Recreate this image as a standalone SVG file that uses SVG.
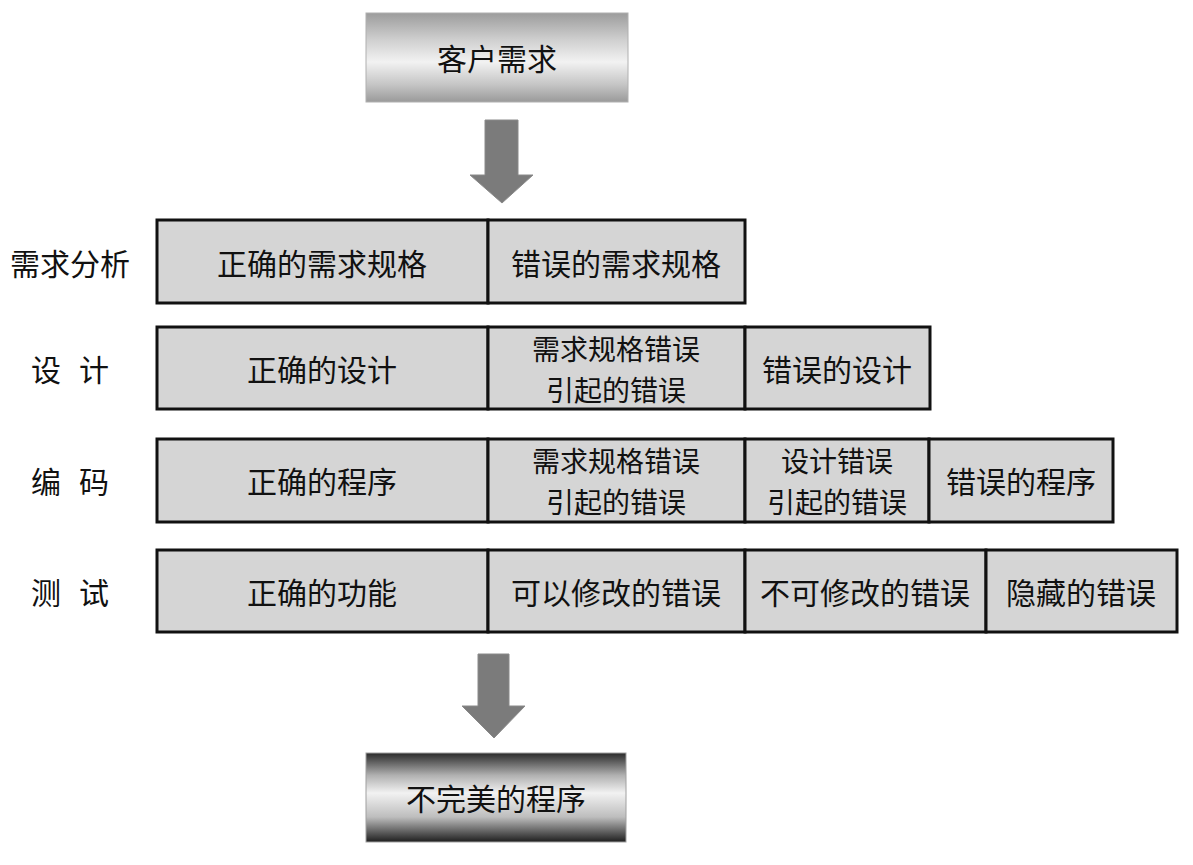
<svg xmlns="http://www.w3.org/2000/svg" width="1193" height="865" viewBox="0 0 1193 865">
<defs>
<linearGradient id="gTop" x1="0" y1="0" x2="0" y2="1">
<stop offset="0" stop-color="#9c9c9c"/>
<stop offset="0.3" stop-color="#cfcfcf"/>
<stop offset="0.55" stop-color="#f2f2f2"/>
<stop offset="0.8" stop-color="#c6c6c6"/>
<stop offset="1" stop-color="#9a9a9a"/>
</linearGradient>
<linearGradient id="gBot" x1="0" y1="0" x2="0" y2="1">
<stop offset="0" stop-color="#2a2a2a"/>
<stop offset="0.25" stop-color="#b0b0b0"/>
<stop offset="0.45" stop-color="#f2f2f2"/>
<stop offset="0.72" stop-color="#bdbdbd"/>
<stop offset="1" stop-color="#1e1e1e"/>
</linearGradient>
</defs>
<style>
text{font-family:"Noto Sans CJK SC","Liberation Sans",sans-serif;font-size:30px;fill:#111;text-anchor:middle;dominant-baseline:central}
text.two{font-size:28px}
.cell{fill:#d5d5d5;stroke:#111;stroke-width:3}
.arrow{fill:#7b7b7b;stroke:#8a8a8a;stroke-width:1}
.lbl{text-anchor:start}
</style>
<rect width="1193" height="865" fill="#ffffff"/>
<g id="connectors">
<polygon class="arrow" points="485,120 518,120 518,175 533,175 502,203 470,175 485,175"/>
<polygon class="arrow" points="478,654 509,654 509,706 525,706 494,738 462,706 478,706"/>
</g>
<g id="node-top">
<rect x="366" y="13" width="262" height="89" fill="url(#gTop)" stroke="#b0b0b0" stroke-width="1"/>
<text x="497" y="57">客户需求</text>
</g>
<g id="node-bottom">
<rect x="366" y="753" width="260" height="89" fill="url(#gBot)" stroke="#a0a0a0" stroke-width="1"/>
<text x="496" y="797">不完美的程序</text>
</g>
<g id="labels">
<text x="70" y="262">需求分析</text>
<text class="lbl" x="31" y="368">设 <tspan x="79">计</tspan></text>
<text class="lbl" x="31" y="480">编 <tspan x="79">码</tspan></text>
<text class="lbl" x="31" y="591">测 <tspan x="79">试</tspan></text>
</g>
<g id="row-analysis">
<rect class="cell" x="157" y="220" width="331" height="83"/>
<rect class="cell" x="488" y="220" width="257" height="83"/>
<text x="322" y="262">正确的需求规格</text>
<text x="616" y="262">错误的需求规格</text>
</g>
<g id="row-design">
<rect class="cell" x="157" y="327" width="331" height="82"/>
<rect class="cell" x="488" y="327" width="257" height="82"/>
<rect class="cell" x="745" y="327" width="185" height="82"/>
<text x="322" y="368">正确的设计</text>
<text class="two" x="616" y="348">需求规格错误<tspan x="616" dy="41">引起的错误</tspan></text>
<text x="837" y="368">错误的设计</text>
</g>
<g id="row-coding">
<rect class="cell" x="157" y="439" width="331" height="83"/>
<rect class="cell" x="488" y="439" width="257" height="83"/>
<rect class="cell" x="745" y="439" width="184" height="83"/>
<rect class="cell" x="929" y="439" width="184" height="83"/>
<text x="322" y="480">正确的程序</text>
<text class="two" x="616" y="460">需求规格错误<tspan x="616" dy="41">引起的错误</tspan></text>
<text class="two" x="837" y="460">设计错误<tspan x="837" dy="41">引起的错误</tspan></text>
<text x="1021" y="480">错误的程序</text>
</g>
<g id="row-testing">
<rect class="cell" x="157" y="550" width="331" height="82"/>
<rect class="cell" x="488" y="550" width="257" height="82"/>
<rect class="cell" x="745" y="550" width="241" height="82"/>
<rect class="cell" x="986" y="550" width="191" height="82"/>
<text x="322" y="591">正确的功能</text>
<text x="616" y="591">可以修改的错误</text>
<text x="865" y="591">不可修改的错误</text>
<text x="1081" y="591">隐藏的错误</text>
</g>
</svg>
